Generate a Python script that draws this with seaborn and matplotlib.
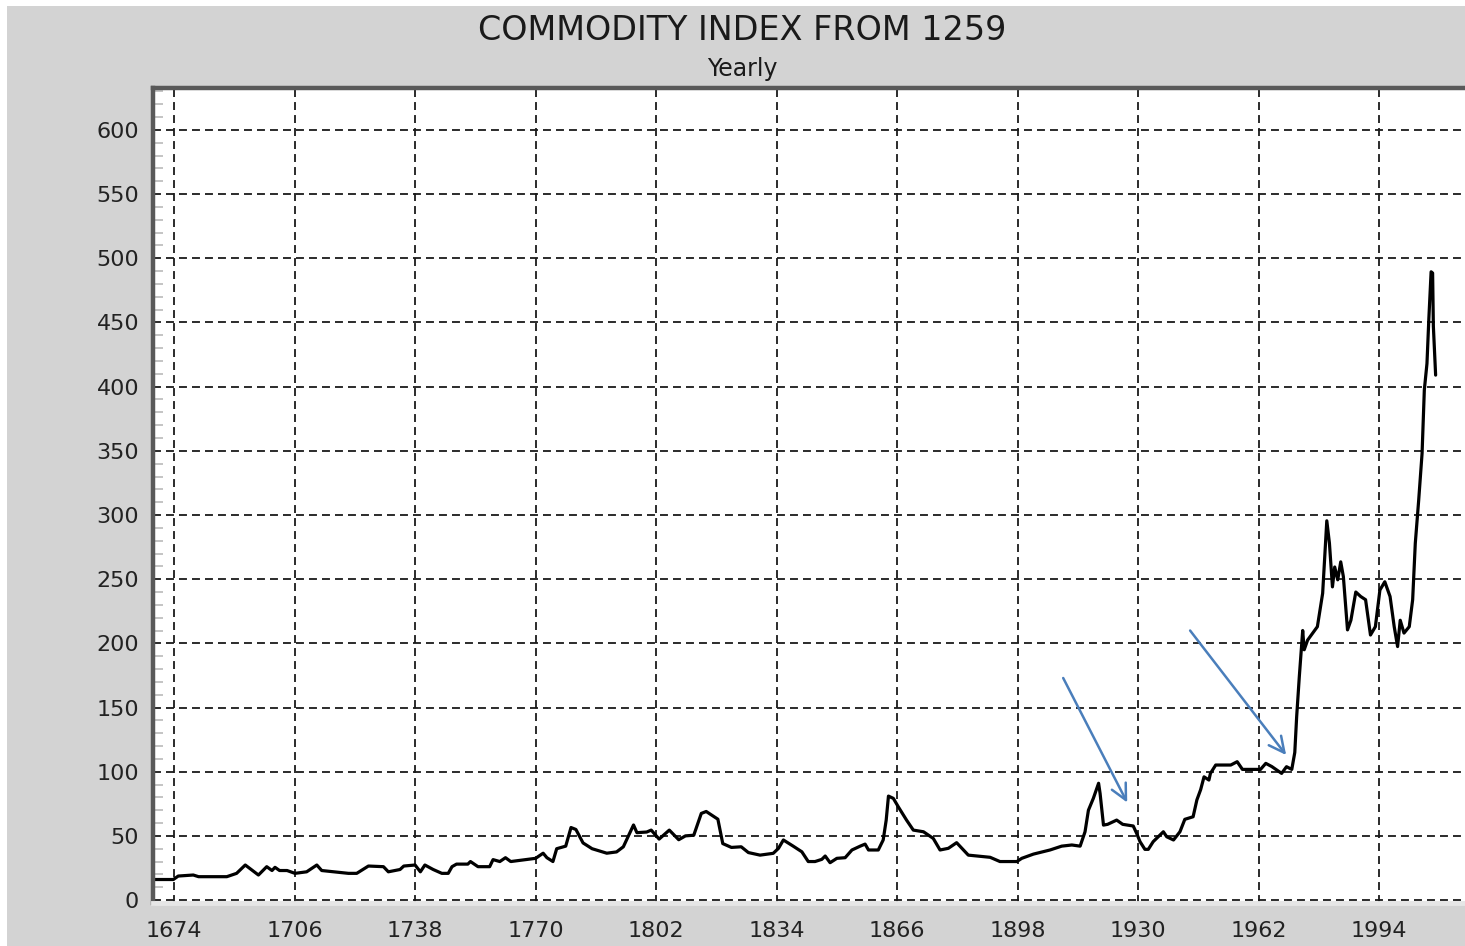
import matplotlib
matplotlib.use("Agg")
import matplotlib.pyplot as plt
import seaborn as sns
import pandas as pd
from matplotlib.patches import Rectangle
from matplotlib.ticker import MultipleLocator

# values
years = [
    1667.6, 1673.8, 1675.1, 1679.1, 1680.5, 1688, 1690.6, 1692.9, 1696.4, 1698.6,
    1700, 1700.8, 1702, 1704, 1706.1, 1709.2, 1711.9, 1713.2, 1720.3, 1722.5,
    1725.6, 1729.6, 1730.9, 1734, 1735, 1738, 1739.4, 1740.6, 1742.8, 1745.1,
    1746.8, 1747.8, 1749, 1752, 1752.7, 1754.7, 1757.8, 1758.7, 1760.5, 1762,
    1763.4, 1766, 1770, 1772, 1773, 1774.6, 1775.6, 1778, 1779.4, 1780.7,
    1782.6, 1785, 1788.9, 1791.5, 1793.3, 1796, 1796.9, 1799.5, 1800.7, 1802.8,
    1805.5, 1808, 1809.8, 1812, 1814, 1815.3, 1818.4, 1819.7, 1822, 1824.6,
    1826.5, 1829.6, 1833.1, 1834.5, 1835.8, 1838.4, 1840.7, 1842.4, 1844.2, 1846,
    1846.9, 1848.2, 1850, 1852.2, 1854, 1856.2, 1857.5, 1858.4, 1861, 1862.3,
    1863.1, 1863.7, 1865, 1866.3, 1868.5, 1870.3, 1873, 1875.6, 1877.4, 1879.6,
    1881.8, 1884.9, 1890.7, 1893.3, 1897.8, 1899.1, 1902.2, 1906.6, 1909.7, 1912.4,
    1914.6, 1915.9, 1916.8, 1918.1, 1919.5, 1919.9, 1920.8, 1921.9, 1924.3, 1925.9,
    1928.7, 1929.6, 1930.5, 1931.8, 1932.7, 1934, 1936.7, 1937.6, 1939.4, 1941.1,
    1942.4, 1944.6, 1945.6, 1946.6, 1947.5, 1948.8, 1949.2, 1950.6, 1954.6, 1956.3,
    1957.7, 1962.5, 1963.9, 1965.5, 1966.8, 1968.1, 1969.4, 1970.8, 1971.6, 1972.1,
    1972.8, 1973.7, 1974.1, 1975, 1977.6, 1979, 1980.1, 1980.8, 1981.6, 1982.2,
    1983, 1983.8, 1984.5, 1985.6, 1986.5, 1987.8, 1989.1, 1990.4, 1991.7, 1993,
    1994.2, 1995.5, 1996.9, 1998, 1998.9, 1999.6, 2000.6, 2002, 2002.9, 2003.6,
    2004.5, 2005.4, 2006, 2006.7, 2007.2, 2007.8, 2008.2, 2008.4, 2009,
]
index_values = [
    16, 16, 18.7, 19.5, 18.2, 18.2, 20.8, 27.3, 19.5, 26,
    23, 25.5, 23, 23, 20.8, 22, 27.3, 23, 20.8, 20.8,
    26.5, 26, 22, 23.8, 26.5, 27.3, 22, 27.3, 23.8, 20.8,
    20.8, 26, 28, 28, 30, 26, 26, 31.5, 30, 33,
    30, 31, 32.5, 36.5, 33, 30, 40, 42, 56.5, 55,
    44.5, 40, 36.5, 37.5, 41.5, 58.5, 52.5, 53, 54.5, 47.5,
    54.5, 47, 50, 50.5, 67.5, 69, 63, 44, 41, 41.5,
    37, 35, 36.4, 40.3, 46.8, 42, 37.6, 30, 30, 31.7,
    34.3, 29.1, 32.5, 33, 39, 42, 43.6, 39, 39, 46.8,
    62.3, 81, 79.2, 72.7, 62.3, 54.5, 53.2, 48, 39, 40.3,
    44.7, 35, 33.3, 30, 30, 32.5, 35.8, 39, 42, 42.9,
    42, 53.2, 70, 79.2, 91, 83, 58.4, 59, 62.3, 59,
    57.7, 52, 45.5, 39.5, 39.5, 45.5, 53.2, 49.3, 46.8, 53.2,
    62.9, 64.9, 78, 86, 96, 93.5, 98.7, 105.2, 105.2, 107.8,
    101.8, 101.8, 106.5, 104, 101.3, 98.7, 103.9, 101.8, 115, 143,
    174, 210, 195, 202.5, 213, 239, 295.5, 278, 244, 259.5,
    249.5, 263.5, 252, 210.5, 218, 240, 236.5, 234, 206.5, 213,
    241.5, 248, 236.5, 213, 197.5, 218, 208, 213, 234, 278,
    311.5, 348, 397.5, 418, 453, 489.5, 488.5, 447, 409,
]

# blue annotation arrows: (start year, start value) -> (end year, end value)
arrow_starts = [(1910.1, 173), (1943.8, 210)]
arrow_ends = [(1927.1, 76), (1969.3, 113)]

x_ticks = [1674, 1706, 1738, 1770, 1802, 1834, 1866, 1898, 1930, 1962, 1994]
y_ticks = [0, 50, 100, 150, 200, 250, 300, 350, 400, 450, 500, 550, 600]

df = pd.DataFrame({"Year": years, "Index": index_values})

sns.set_style("white")
plt.rcParams["font.family"] = ["DejaVu Sans"]

fig = plt.figure(figsize=(14.65, 9.46), dpi=100)
fig.patch.set_facecolor("white")
# grey panel behind the chart
bg = Rectangle((7 / 1465, 0), 1, 1 - 6 / 946, transform=fig.transFigure,
               facecolor="#d3d3d3", edgecolor="none", zorder=-10)
fig.add_artist(bg)

ax = fig.add_axes([153 / 1465, 43 / 946, 1 - 153 / 1465, (903 - 88) / 946])
ax.set_zorder(1)
ax.set_facecolor("white")

sns.lineplot(data=df, x="Year", y="Index", color="black", linewidth=2.3, ax=ax,
             estimator=None, sort=False)

for (x0, y0), (x1, y1) in zip(arrow_starts, arrow_ends):
    ax.annotate("", xy=(x1, y1), xytext=(x0, y0),
                arrowprops=dict(arrowstyle="->", color="#4a7ebb", lw=1.8,
                                mutation_scale=28, shrinkA=0, shrinkB=0))

ax.set_xlim(1668.4, 2016.8)
ax.set_ylim(-2.3, 632.7)
ax.set_xticks(x_ticks)
ax.set_yticks(y_ticks)
ax.yaxis.set_minor_locator(MultipleLocator(10))
ax.set_xlabel("")
ax.set_ylabel("")

ax.grid(True, which="major", linestyle=(0, (4.4, 2.8)), color="#1a1a1a", linewidth=1.3)
ax.tick_params(axis="both", which="major", direction="out", length=5, width=1.3,
               color="#333333", labelsize=16, labelcolor="#222222")
ax.tick_params(axis="y", which="major", pad=5)
ax.tick_params(axis="x", which="major", pad=8)
ax.tick_params(axis="y", which="minor", direction="in", length=7, width=1.4,
               color="#c4c4c4", left=True)

for side in ["left", "top"]:
    ax.spines[side].set_color("#595959")
    ax.spines[side].set_linewidth(3.2)
ax.spines["right"].set_visible(False)
ax.spines["bottom"].set_color("#e6e6e6")
ax.spines["bottom"].set_linewidth(3.5)

fig.text(0.5065, 0.968, "COMMODITY INDEX FROM 1259", ha="center", va="center",
         fontsize=24, color="#1a1a1a")
fig.text(0.5065, 0.927, "Yearly", ha="center", va="center", fontsize=17, color="#1a1a1a")

fig.savefig("out.png", dpi=100, facecolor=fig.get_facecolor())
